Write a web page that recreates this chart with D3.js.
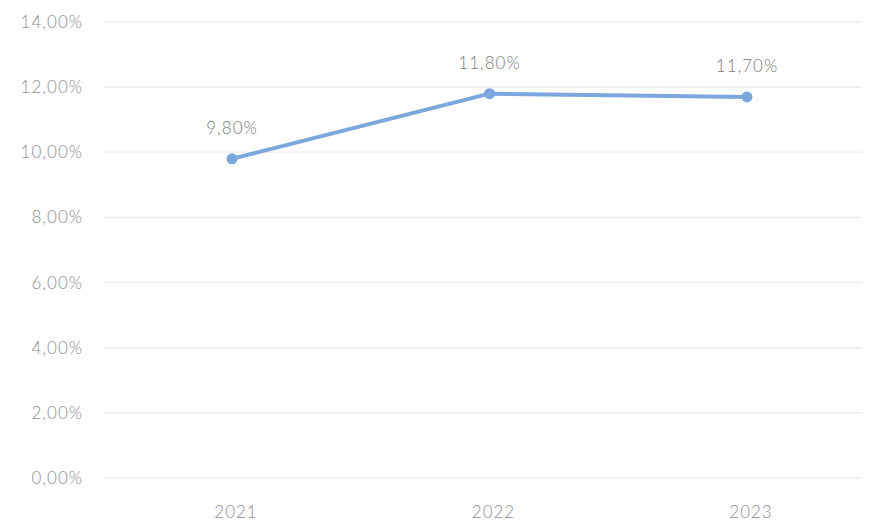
<!DOCTYPE html>
<html lang="en">
<head>
    <meta charset="UTF-8">
    <title>Line chart 2021-2023</title>
    <script src="https://cdnjs.cloudflare.com/ajax/libs/d3/7.8.5/d3.min.js"></script>
    <style>
        body {
            margin: 0;
            padding: 0;
            background-color: #ffffff;
            font-family: Lato, "Open Sans", sans-serif;
        }
        .tick-label {
            font-size: 17px;
            letter-spacing: 1px;
            font-weight: 300;
            fill: #8e8e8e;
        }
        .value-label {
            font-size: 17px;
            letter-spacing: 1px;
            font-weight: 300;
            fill: #7a7a7a;
        }
        .grid line {
            stroke: #efefef;
            stroke-width: 1.5;
        }
    </style>
</head>
<body>
    <div id="chart"></div>

    <script>
        // data
        const years = ["2021", "2022", "2023"];
        const rates = [9.8, 11.8, 11.7];
        const yTicks = [0, 2, 4, 6, 8, 10, 12, 14];

        const width = 871;
        const height = 521;

        const fmt = v => v.toFixed(2).replace(".", ",") + "%";

        const svg = d3.select("#chart")
            .append("svg")
            .attr("width", width)
            .attr("height", height);

        const x = d3.scalePoint()
            .domain(years)
            .range([232, 747]);

        const y = d3.scaleLinear()
            .domain([0, 14])
            .range([478, 22]);

        // gridlines
        const grid = svg.append("g").attr("class", "grid");
        grid.selectAll("line")
            .data(yTicks)
            .enter().append("line")
            .attr("x1", 104)
            .attr("x2", 862)
            .attr("y1", d => y(d))
            .attr("y2", d => y(d));

        // y labels
        svg.append("g")
            .selectAll("text")
            .data(yTicks)
            .enter().append("text")
            .attr("class", "tick-label")
            .attr("x", 83)
            .attr("y", d => y(d))
            .attr("dy", "0.35em")
            .attr("text-anchor", "end")
            .text(d => fmt(d));

        // x labels
        svg.append("g")
            .selectAll("text")
            .data(years)
            .enter().append("text")
            .attr("class", "tick-label")
            .attr("x", d => x(d) + 4)
            .attr("y", 512)
            .attr("dy", "0.35em")
            .attr("text-anchor", "middle")
            .text(d => d);

        const points = years.map((yr, i) => ({year: yr, value: rates[i]}));

        const line = d3.line()
            .x(d => x(d.year))
            .y(d => y(d.value));

        svg.append("path")
            .datum(points)
            .attr("fill", "none")
            .attr("stroke", "#7ba7de")
            .attr("stroke-width", 4)
            .attr("stroke-linejoin", "round")
            .attr("d", line);

        svg.append("g")
            .selectAll("circle")
            .data(points)
            .enter().append("circle")
            .attr("cx", d => x(d.year))
            .attr("cy", d => y(d.value))
            .attr("r", 5.5)
            .attr("fill", "#7ba7de");

        svg.append("g")
            .selectAll("text")
            .data(points)
            .enter().append("text")
            .attr("class", "value-label")
            .attr("x", d => x(d.year))
            .attr("y", d => y(d.value) - 31)
            .attr("dy", "0.35em")
            .attr("text-anchor", "middle")
            .text(d => fmt(d.value));
    </script>
</body>
</html>
